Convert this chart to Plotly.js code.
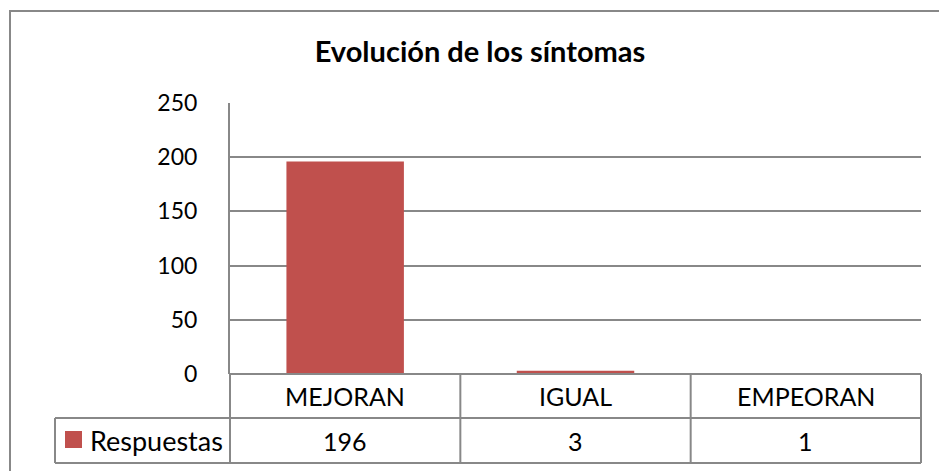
<!DOCTYPE html>
<html>
<head>
<meta charset="utf-8">
<script src="https://cdn.plot.ly/plotly-3.0.1.min.js"></script>
<style>html,body{margin:0;padding:0;background:#fff;}</style>
</head>
<body>
<div id="chart" style="width:939px;height:471px;"></div>
<script>
const categories = ["MEJORAN", "IGUAL", "EMPEORAN"];
const values = [196, 3, 1];
const seriesName = "Respuestas";
const chartTitle = "Evolución de los síntomas";
const yTicks = [0, 50, 100, 150, 200, 250];

const FONT = "Lato, 'Open Sans', sans-serif";
const RED = "#C0504D";
const GRID = "#888888";

// table geometry in paper coords (plot area: x 230..921, y 103..374)
const plotW = 691, plotH = 271;
const row1 = -44 / plotH, row2 = -89 / plotH;
const leftCol = (55 - 230) / plotW;

const shapes = [];
const line = (x0, y0, x1, y1) => shapes.push({type: "line", xref: "paper", yref: "paper", x0, y0, x1, y1, line: {color: GRID, width: 2}, layer: "above"});
// horizontal table lines
line(0, 0, 1, 0);
line(leftCol, row1, 1, row1);
line(leftCol, row2, 1, row2);
// vertical table lines
line(0, 0, 0, row2);
line(leftCol, row1, leftCol, row2);
for (let i = 1; i <= categories.length; i++) line(i / categories.length, 0, i / categories.length, row2);
// legend key
shapes.push({type: "rect", xref: "paper", yref: "paper",
  x0: (65 - 230) / plotW, x1: (82 - 230) / plotW,
  y0: -(448 - 374) / plotH, y1: -(431 - 374) / plotH,
  fillcolor: RED, line: {width: 0}});
// outer chart border
shapes.push({type: "rect", xref: "paper", yref: "paper",
  x0: (10 - 230) / plotW, x1: (945 - 230) / plotW,
  y0: -(480 - 374) / plotH, y1: (374 - 11) / plotH,
  line: {color: GRID, width: 2}, fillcolor: "rgba(0,0,0,0)"});

const annotations = [];
categories.forEach((c, i) => {
  annotations.push({x: c, xref: "x", y: row1 / 2, yref: "paper", text: c, showarrow: false,
    xanchor: "center", yanchor: "middle", font: {family: FONT, size: 25, color: "#000"}});
  annotations.push({x: c, xref: "x", y: (row1 + row2) / 2, yref: "paper", text: String(values[i]), showarrow: false,
    xanchor: "center", yanchor: "middle", font: {family: FONT, size: 25, color: "#000"}});
});
annotations.push({x: (88 - 230) / plotW, xref: "paper", y: (row1 + row2) / 2, yref: "paper", text: seriesName,
  showarrow: false, xanchor: "left", yanchor: "middle", font: {family: FONT, size: 27, color: "#000"}});

const data = [{
  type: "bar", x: categories, y: values, name: seriesName,
  marker: {color: RED}, width: 0.51, hoverinfo: "x+y"
}];

const layout = {
  width: 939, height: 471,
  margin: {l: 230, r: 18, t: 103, b: 97},
  paper_bgcolor: "#fff", plot_bgcolor: "#fff",
  showlegend: false,
  title: {text: "<b>" + chartTitle + "</b>", font: {family: FONT, size: 29, color: "#000"},
    x: 480 / 939, xanchor: "center", xref: "container", y: 1 - 52 / 471, yanchor: "middle", yref: "container"},
  xaxis: {type: "category", range: [-0.5, 2.5], showticklabels: false, showgrid: false, zeroline: false, showline: false, ticks: ""},
  yaxis: {range: [0, 250], tickvals: yTicks, showgrid: true, gridcolor: GRID, gridwidth: 2,
    zeroline: false, showline: true, linecolor: GRID, linewidth: 2, ticks: "",
    ticklabelstandoff: 26, tickfont: {family: FONT, size: 23, color: "#000"}},
  shapes, annotations
};

Plotly.newPlot("chart", data, layout, {displayModeBar: false, staticPlot: true});
</script>
</body>
</html>
